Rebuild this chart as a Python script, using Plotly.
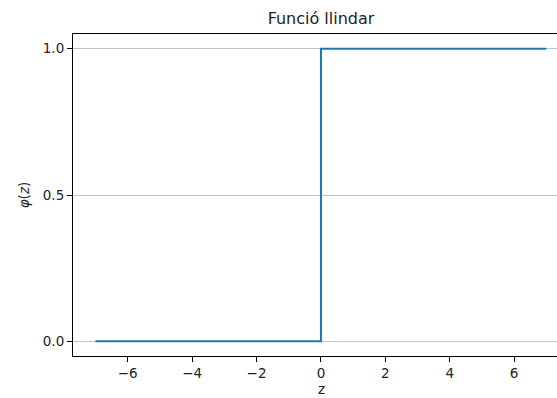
import plotly.graph_objects as go

# Data: threshold (step) function
z_values = [-7, 0, 0, 7]
phi_values = [0, 0, 1, 1]
x_ticks = [-6, -4, -2, 0, 2, 4, 6]
y_ticks = [0.0, 0.5, 1.0]
y_tick_labels = ["0.0", "0.5", "1.0"]

fig = go.Figure()
fig.add_trace(go.Scatter(
    x=z_values, y=phi_values, mode="lines",
    line=dict(color="#1f77b4", width=2),
    showlegend=False, hoverinfo="skip",
))

font = "DejaVu Sans, Liberation Sans, sans-serif"
fig.update_layout(
    width=557, height=398,
    margin=dict(l=73, r=0, t=34, b=42),
    paper_bgcolor="white", plot_bgcolor="white",
    font=dict(family=font, size=13.5, color="#222222"),
    title=dict(text="Funció llindar", x=321/557, xanchor="center",
               y=1 - 18/398, yanchor="middle",
               font=dict(size=16, color="#222222", family=font)),
)
# x-axis label centred on the full (partly cropped) axes width
fig.add_annotation(
    text="z", xref="paper", yref="paper",
    x=(321 - 73) / (557 - 73), y=(356 - 389) / 322,
    xanchor="center", yanchor="middle", showarrow=False, borderpad=0,
    font=dict(size=13.5, color="#222222", family=font),
)
fig.update_xaxes(
    range=[-7.7, 7.33], tickvals=x_ticks,
    showgrid=False, zeroline=False,
    showline=True, linecolor="black", linewidth=1.1, mirror=True,
    ticks="outside", ticklen=5, tickcolor="black", tickwidth=1.1,
)
fig.update_yaxes(
    range=[-0.05, 1.05], tickvals=y_ticks, ticktext=y_tick_labels,
    showgrid=True, gridcolor="#c4c4c4", gridwidth=1.1, zeroline=False,
    showline=True, linecolor="black", linewidth=1.1, mirror=False,
    ticks="outside", ticklen=5, tickcolor="black", tickwidth=1.1,
    title=dict(text="<i>φ</i>(<i>z</i>)", font=dict(size=13.5), standoff=10),
)

fig.write_html("out.html")
